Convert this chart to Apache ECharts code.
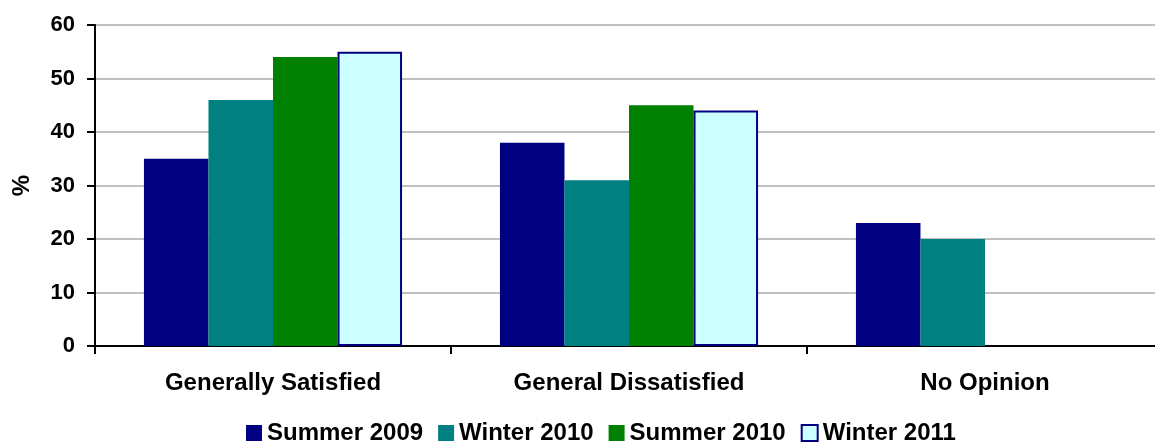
<!DOCTYPE html>
<html>
<head>
<meta charset="utf-8">
<script src="https://cdn.jsdelivr.net/npm/echarts@6/dist/echarts.min.js"></script>
<style>
  html, body { margin: 0; padding: 0; background: #fff; }
  #chart { width: 1155px; height: 443px; }
</style>
</head>
<body>
<div id="chart"></div>
<script>
// Survey responses by season, in percent
const categories = ['Generally Satisfied', 'General Dissatisfied', 'No Opinion'];
const seriesNames = ['Summer 2009', 'Winter 2010', 'Summer 2010', 'Winter 2011'];
const summer2009 = [35, 38, 23];
const winter2010 = [46, 31, 20];
const summer2010 = [54, 45, null];
const winter2011 = [55, 44, null];
const yTicks = [0, 10, 20, 30, 40, 50, 60];

const FONT = '"Liberation Sans", Arial, sans-serif';
const colors = ['#000080', '#008080', '#008000', '#CCFFFF'];
const values = [summer2009, winter2010, summer2010, winter2011];

const series = seriesNames.map((name, i) => ({
  name,
  type: 'bar',
  data: values[i],
  barGap: '0%',
  barCategoryGap: '27.5%',
  itemStyle: i === 3
    ? { color: colors[i], borderColor: '#000080', borderWidth: 2 }
    : { color: colors[i] }
}));

const chart = echarts.init(document.getElementById('chart'), null, { renderer: 'canvas' });
chart.setOption({
  animation: false,
  backgroundColor: '#ffffff',
  // the plot runs a little past the right edge of the canvas
  grid: {
    left: 95, width: 1068, top: 25, height: 321,
    containLabel: false,
    outerBoundsMode: 'none'
  },
  legend: {
    data: seriesNames,
    left: 246,
    top: 421,
    padding: 0,
    icon: 'rect',
    itemWidth: 16,
    itemHeight: 16,
    itemGap: 15,
    textStyle: { fontFamily: FONT, fontWeight: 'bold', fontSize: 24, color: '#000' }
  },
  xAxis: {
    type: 'category',
    data: categories,
    axisLine: { lineStyle: { color: '#000', width: 2 } },
    axisTick: { show: true, alignWithLabel: false, length: 8, lineStyle: { color: '#000', width: 2 } },
    axisLabel: { margin: 25, fontFamily: FONT, fontWeight: 'bold', fontSize: 24, color: '#000' }
  },
  yAxis: {
    type: 'value',
    min: yTicks[0],
    max: yTicks[yTicks.length - 1],
    interval: 10,
    name: '%',
    nameLocation: 'middle',
    nameGap: 61,
    nameRotate: 90,
    nameTextStyle: { fontFamily: FONT, fontWeight: 'bold', fontSize: 24, color: '#000' },
    axisLine: { show: true, lineStyle: { color: '#000', width: 2 } },
    axisTick: { show: true, length: 8, lineStyle: { color: '#000', width: 2 } },
    axisLabel: { margin: 20, fontFamily: FONT, fontWeight: 'bold', fontSize: 22, color: '#000' },
    splitLine: { show: true, lineStyle: { color: '#C0C0C0', width: 2 } }
  },
  series
});
</script>
</body>
</html>
